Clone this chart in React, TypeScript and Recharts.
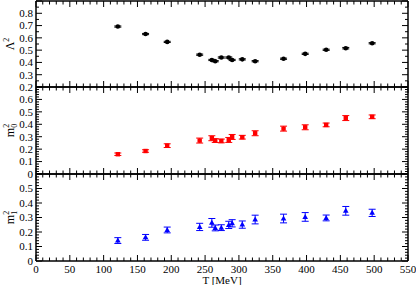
import { ScatterChart, Scatter, XAxis, YAxis, ErrorBar } from "recharts";

// temperatures [MeV] shared by all three panels
const temps = [121, 162, 194, 242, 260, 265, 274, 285, 290, 305, 324, 366, 398, 429, 458, 497];

const lambda2 = [0.692, 0.631, 0.567, 0.463, 0.42, 0.41, 0.44, 0.44, 0.42, 0.425, 0.41, 0.43, 0.47, 0.503, 0.516, 0.556];
const lambda2Err = [0.005, 0.005, 0.005, 0.005, 0.005, 0.005, 0.005, 0.005, 0.005, 0.005, 0.005, 0.005, 0.005, 0.005, 0.006, 0.005];

const m0sq = [0.159, 0.185, 0.228, 0.269, 0.288, 0.269, 0.266, 0.274, 0.298, 0.296, 0.328, 0.365, 0.376, 0.395, 0.45, 0.46];
const m0sqErr = [0.01, 0.01, 0.015, 0.02, 0.02, 0.015, 0.015, 0.02, 0.02, 0.015, 0.02, 0.02, 0.02, 0.015, 0.02, 0.015];

const m1sq = [0.141, 0.163, 0.214, 0.235, 0.263, 0.228, 0.23, 0.249, 0.26, 0.251, 0.286, 0.293, 0.304, 0.297, 0.346, 0.332];
const m1sqErr = [0.02, 0.02, 0.02, 0.025, 0.03, 0.02, 0.02, 0.025, 0.025, 0.025, 0.03, 0.03, 0.03, 0.02, 0.03, 0.025];

const xTicks = Array.from({ length: 56 }, (_, i) => i * 10);
const W = 416;
const H = 285;
const FONT = "'Liberation Serif', 'DejaVu Serif', serif";

const rows = (vals: number[], errs: number[]) =>
  temps.map((t, i) => ({ t, v: vals[i], e: errs[i] }));

const isMajor = (v: number, step: number) => Math.abs(v / step - Math.round(v / step)) < 1e-6;

const XTick = ({ x, y, payload, side, labels }: any) => {
  const v = payload.value;
  const major = isMajor(v, 50);
  const len = major ? 6 : 3.5;
  const dir = side === "bottom" ? -1 : 1;
  return (
    <g>
      <line x1={x} x2={x} y1={y} y2={y + dir * len} stroke="#000" strokeWidth={1} />
      {labels && major && (
        <text x={x} y={y + 12} textAnchor="middle" fontFamily={FONT} fontSize={11} fill="#000">
          {v}
        </text>
      )}
    </g>
  );
};

const YTick = ({ x, y, payload, side, max }: any) => {
  const v = payload.value;
  const major = isMajor(v, 0.1);
  const len = major ? 6 : 3;
  const dir = side === "left" ? 1 : -1;
  const showLabel = side === "left" && major && v < max - 1e-6;
  return (
    <g>
      <line x1={x} x2={x + dir * len} y1={y} y2={y} stroke="#000" strokeWidth={1} />
      {showLabel && (
        <text x={x - 3} y={y} dy="0.35em" textAnchor="end" fontFamily={FONT} fontSize={11} fill="#000">
          {v === 0 ? "0" : v.toFixed(1)}
        </text>
      )}
    </g>
  );
};

const yTitle = (main: string, sub?: string) => (props: any) => {
  const vb = props.viewBox;
  const cy = vb.y + vb.height / 2;
  return (
    <text
      transform={`translate(14, ${cy}) rotate(-90)`}
      textAnchor="middle"
      fontFamily={FONT}
      fontSize={12}
      fill="#000"
    >
      {main}
      <tspan fontSize={8} dy={-5}>2</tspan>
      {sub && (
        <tspan fontSize={8} dx={-4} dy={8}>
          {sub}
        </tspan>
      )}
    </text>
  );
};

const xTitle = (props: any) => {
  const vb = props.viewBox;
  return (
    <text x={vb.x + vb.width / 2} y={vb.y + 23} textAnchor="middle" fontFamily={FONT} fontSize={11} fill="#000">
      T  [MeV]
    </text>
  );
};

const Circle = (p: any) => <circle cx={p.cx} cy={p.cy} r={2.3} fill="#000" />;
const Square = (p: any) => <rect x={p.cx - 2.2} y={p.cy - 2.2} width={4.4} height={4.4} fill="#ff0000" />;
const Triangle = (p: any) => (
  <polygon points={`${p.cx},${p.cy - 3} ${p.cx - 2.8},${p.cy + 2} ${p.cx + 2.8},${p.cy + 2}`} fill="#0000ff" />
);

interface PanelProps {
  top: number;
  bottom: number;
  domain: [number, number];
  yTicks: number[];
  data: { t: number; v: number; e: number }[];
  color: string;
  shape: any;
  title: any;
  xLabels?: boolean;
}

// plot area spans x 36..408; axes are 1px wide so the margins are trimmed by 1
const Panel = ({ top, bottom, domain, yTicks, data, color, shape, title, xLabels }: PanelProps) => (
  <div style={{ position: "absolute", left: 0, top: 0 }}>
    <ScatterChart width={W} height={H} margin={{ top: top - 1, bottom: H - bottom - 1, left: 35, right: 7 }}>
      <XAxis
        xAxisId="b"
        dataKey="t"
        type="number"
        domain={[0, 550]}
        ticks={xTicks}
        interval={0}
        allowDataOverflow
        height={1}
        tickSize={0}
        tickMargin={0}
        tickLine={false}
        axisLine={{ stroke: "#000", strokeWidth: 1.5 }}
        tick={(p: any) => <XTick {...p} side="bottom" labels={xLabels} />}
        label={xLabels ? { content: xTitle } : undefined}
      />
      <XAxis
        xAxisId="t"
        orientation="top"
        dataKey="t"
        type="number"
        domain={[0, 550]}
        ticks={xTicks}
        interval={0}
        allowDataOverflow
        height={1}
        tickSize={0}
        tickMargin={0}
        tickLine={false}
        axisLine={{ stroke: "#000", strokeWidth: 1.5 }}
        tick={(p: any) => <XTick {...p} side="top" />}
      />
      <YAxis
        yAxisId="l"
        dataKey="v"
        type="number"
        domain={domain}
        ticks={yTicks}
        interval={0}
        allowDataOverflow
        width={1}
        tickSize={0}
        tickMargin={0}
        tickLine={false}
        axisLine={{ stroke: "#000", strokeWidth: 1.5 }}
        tick={(p: any) => <YTick {...p} side="left" max={domain[1]} />}
        label={{ content: title }}
      />
      <YAxis
        yAxisId="r"
        orientation="right"
        dataKey="v"
        type="number"
        domain={domain}
        ticks={yTicks}
        interval={0}
        allowDataOverflow
        width={1}
        tickSize={0}
        tickMargin={0}
        tickLine={false}
        axisLine={{ stroke: "#000", strokeWidth: 1.5 }}
        tick={(p: any) => <YTick {...p} side="right" max={domain[1]} />}
      />
      <Scatter data={data} xAxisId="b" yAxisId="l" shape={shape} isAnimationActive={false}>
        <ErrorBar dataKey="e" direction="y" width={3.5} stroke={color} strokeWidth={1} />
      </Scatter>
    </ScatterChart>
  </div>
);

const steps = (from: number, to: number, step: number) =>
  Array.from({ length: Math.round((to - from) / step) + 1 }, (_, i) => +(from + i * step).toFixed(3));

export default function App() {
  return (
    <div style={{ position: "absolute", left: 0, top: 0, width: W, height: H, background: "#fff" }}>
      <Panel
        top={1}
        bottom={87}
        domain={[0.2, 0.9]}
        yTicks={steps(0.2, 0.9, 0.05)}
        data={rows(lambda2, lambda2Err)}
        color="#000"
        shape={Circle}
        title={yTitle("Λ")}
      />
      <Panel
        top={87}
        bottom={174}
        domain={[0, 0.7]}
        yTicks={steps(0, 0.7, 0.02)}
        data={rows(m0sq, m0sqErr)}
        color="#ff0000"
        shape={Square}
        title={yTitle("m", "0")}
      />
      <Panel
        top={174}
        bottom={261}
        domain={[0, 0.6]}
        yTicks={steps(0, 0.6, 0.02)}
        data={rows(m1sq, m1sqErr)}
        color="#0000ff"
        shape={Triangle}
        title={yTitle("m", "1")}
        xLabels
      />
    </div>
  );
}
